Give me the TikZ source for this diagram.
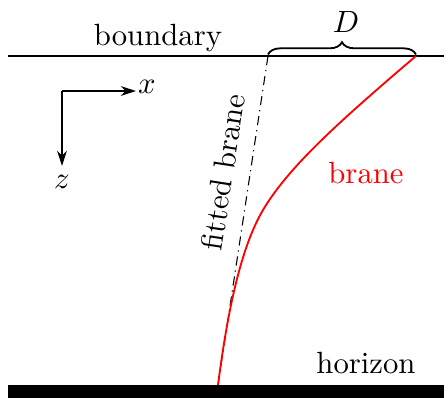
\documentclass[tikz,border=0pt]{standalone}
\usepackage{tikz}
\usetikzlibrary{arrows.meta,decorations.pathreplacing}
\tikzset{
  edge/.style={line width=0.6pt},
  wall/.style={fill=black,draw=none},
  axis/.style={-{Stealth[length=5pt,width=3.2pt]},line width=0.35pt},
  fitted/.style={dash pattern=on 3pt off 1.6pt on 0.4pt off 1.6pt,line width=0.35pt},
  brane/.style={red,line width=0.6pt},
  lbl/.style={inner sep=0pt,anchor=base},
}
\begin{document}
\begin{tikzpicture}[x=0.01145cm,y=-0.01145cm]
  \useasboundingbox (0,0) rectangle (448,398);
  % boundary and horizon
  \coordinate (bndL) at (8,56);
  \coordinate (bndR) at (444,56);
  \draw[edge] (bndL) -- (bndR);
  \fill[wall] (8,385) rectangle (444,398);
  \node[lbl] (bnd) at (158,45) {boundary};
  \node[lbl] (hzn) at (366,373) {horizon};
  % axes
  \coordinate (o) at (62,91);
  \coordinate (xe) at (136,91);
  \coordinate (ze) at (62,166);
  \draw[axis] (o) -- (xe);
  \draw[axis] (o) -- (ze);
  \node[inner sep=0pt] (xl) at (147,87) {$x$};
  \node[inner sep=0pt] (zl) at (62,182) {$z$};
  % branes
  \coordinate (fitTop) at (268,56);
  \coordinate (braneTop) at (416,56);
  \coordinate (foot) at (218,385);
  \draw[fitted] (fitTop) -- (foot);
  \draw[brane] (braneTop) .. controls (335,125) and (288,168) .. (263,210)
    .. controls (243,244) and (229,300) .. (foot);
  \node[rotate=81.3,inner sep=0pt] (fitl) at (223,172) {fitted brane};
  \node[lbl,red] (branel) at (366,183) {brane};
  % width D
  \draw[decorate,decoration={brace,amplitude=4pt},line width=0.6pt]
    ([yshift=0.5pt]fitTop) -- ([yshift=0.5pt]braneTop);
  \node[lbl] (dl) at (346,32) {$D$};
\end{tikzpicture}
\end{document}
